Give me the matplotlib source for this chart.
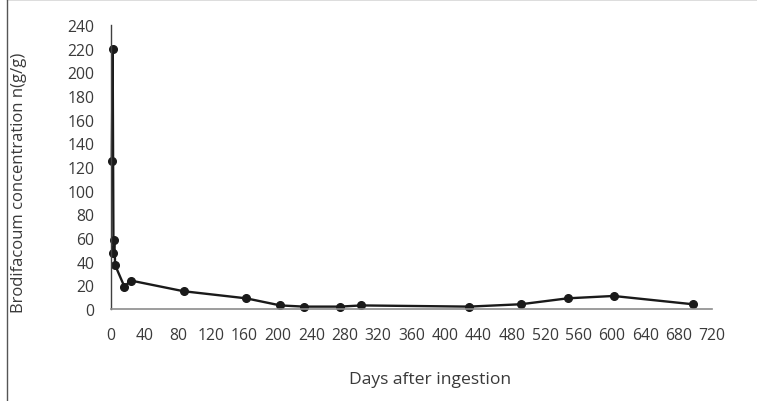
import matplotlib.pyplot as plt
from matplotlib.lines import Line2D

# Brodifacoum residue over time
days = [1, 2, 3, 4, 5, 16, 24, 87, 162, 203, 231, 274, 300, 429, 491, 547, 602, 697]
conc = [125, 220, 47, 58, 37, 19, 24, 15, 9, 3, 2, 2, 3, 2, 4, 9, 11, 4]

x_ticks = list(range(0, 721, 40))
y_ticks = list(range(0, 241, 20))

plt.rcParams['font.family'] = ['Open Sans', 'DejaVu Sans']
text_color = '#3a3a3a'

fig = plt.figure(figsize=(7.57, 4.02), dpi=100)
ax = fig.add_axes([0.1466, 0.2289, 0.794, 0.7064])

ax.plot(days, conc, color='#1a1a1a', lw=1.7, marker='o', ms=5.5,
        markerfacecolor='#1a1a1a', markeredgecolor='#1a1a1a', clip_on=False)

ax.set_xlim(0, 720)
ax.set_ylim(0, 240)
ax.set_xticks(x_ticks)
ax.set_yticks(y_ticks)
ax.tick_params(axis='both', length=0, labelsize=11.3, colors=text_color)
ax.tick_params(axis='x', pad=13)
ax.tick_params(axis='y', pad=12)

for side in ('top', 'right'):
    ax.spines[side].set_visible(False)
ax.spines['left'].set_color('#404040')
ax.spines['bottom'].set_color('#8c8c8c')
ax.spines['left'].set_linewidth(1.0)
ax.spines['bottom'].set_linewidth(1.2)

# axis titles placed in figure coordinates
fig.text(430 / 757, 1 - 380 / 402, 'Days after ingestion', fontsize=12.6,
         color=text_color, ha='center', va='center')
fig.text(19 / 757, 1 - 183 / 402, 'Brodifacoum concentration n(g/g)', fontsize=12.0,
         color=text_color, ha='center', va='center', rotation=90)

# outer chart frame
fig.add_artist(Line2D([0.0092, 0.0092], [0, 1], transform=fig.transFigure, color='#555555', lw=1))
fig.add_artist(Line2D([0.0092, 1], [0.999, 0.999], transform=fig.transFigure, color='#555555', lw=1))

fig.savefig('out.png', dpi=100)
